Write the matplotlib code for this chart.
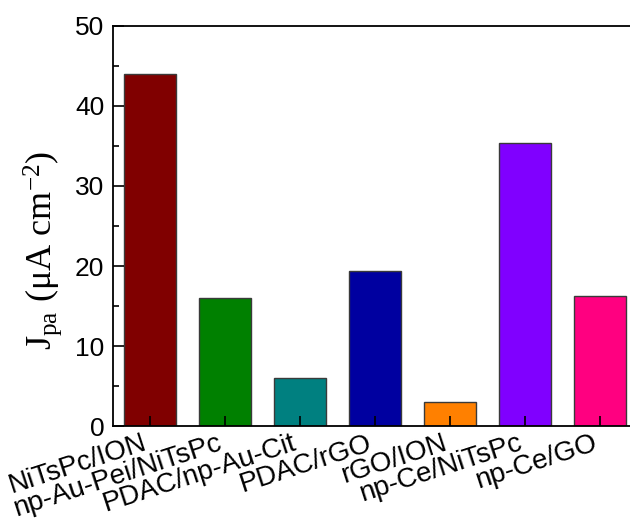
import matplotlib
matplotlib.use('Agg')
import matplotlib.pyplot as plt
import numpy as np

# electrode modifications and their anodic peak current densities
electrodes = ['NiTsPc/ION', 'np-Au-Pei/NiTsPc', 'PDAC/np-Au-Cit', 'PDAC/rGO',
              'rGO/ION', 'np-Ce/NiTsPc', 'np-Ce/GO']
jpa = [44.0, 16.0, 6.0, 19.4, 3.0, 35.4, 16.2]
bar_colors = ['#800000', '#008000', '#008080', '#0000A0',
              '#FF8000', '#8000FF', '#FF0080']

plt.rcParams['font.family'] = ['Liberation Sans', 'DejaVu Sans']
plt.rcParams['mathtext.fontset'] = 'custom'
plt.rcParams['mathtext.rm'] = 'Liberation Serif'
plt.rcParams['mathtext.it'] = 'Liberation Serif:italic'

fig = plt.figure(figsize=(6.3, 5.22), dpi=100)
ax = fig.add_axes([0.1786, 0.1839, 0.8333, 0.7663])

x = np.arange(1, len(jpa) + 1)
ax.bar(x, jpa, width=0.7, color=bar_colors, edgecolor='#3a3a3a', linewidth=1.0)

ax.set_xlim(0.5, 7.5)
ax.set_ylim(0, 50)
ax.set_yticks(np.arange(0, 51, 10))
ax.set_yticks(np.arange(5, 50, 10), minor=True)
ax.set_xticks(x)
ax.set_xticklabels(electrodes, rotation=18, ha='right', va='top', fontsize=20)

ax.tick_params(axis='y', which='major', direction='in', length=8, width=1.2,
               labelsize=19, pad=6)
ax.tick_params(axis='y', which='minor', direction='in', length=4, width=1.2)
ax.tick_params(axis='x', which='major', direction='in', length=7, width=1.2, pad=3)

for s in ax.spines.values():
    s.set_linewidth(1.3)

ax.set_ylabel(r'J$_{\mathrm{pa}}$ ($\mathrm{\mu}$A cm$^{-2}$)', fontsize=26,
              family='Liberation Serif')
ax.yaxis.set_label_coords(-0.093, 0.44)

plt.savefig('out.png', dpi=100)
